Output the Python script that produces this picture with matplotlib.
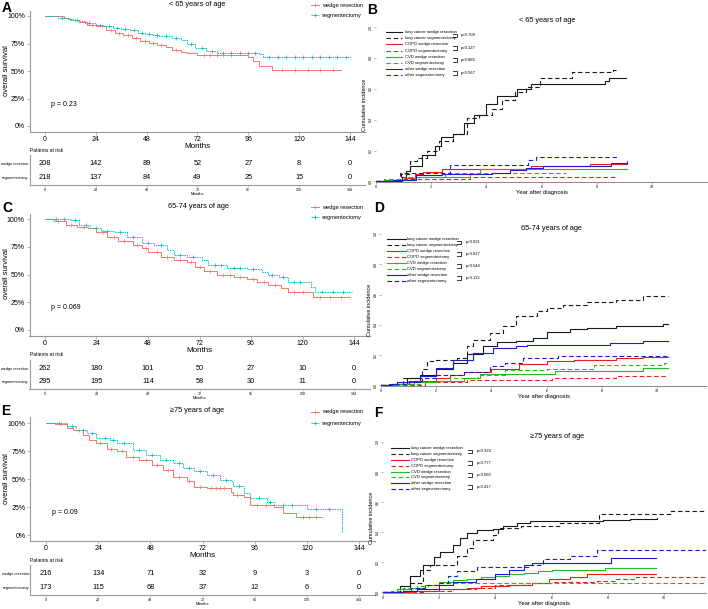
"""
Overall survival (KM) and cumulative incidence by age group, wedge vs segmentectomy
"""
import numpy as np
import matplotlib.pyplot as plt

plt.rcParams['font.family'] = ['Liberation Sans', 'DejaVu Sans']

W, H = 708, 609
RED = '#F8766D'
TEAL = '#00BFC4'

# ---------------- Kaplan-Meier data (months, survival) ----------------
month_ticks = [0, 24, 48, 72, 96, 120, 144]

A_wedge_t = [0, 9, 11, 13, 16, 20, 24, 29, 33, 37, 41, 45, 49, 53, 57, 60, 64, 67, 72, 92, 96, 98, 101, 107, 140]
A_wedge_s = [1.0, .985, .97, .96, .95, .92, .905, .87, .85, .83, .80, .77, .755, .74, .715, .69, .675, .66, .65, .65, .63, .595, .545, .51, .51]
A_wedge_cens = [14, 22, 27, 31, 35, 39, 43, 47, 51, 55, 62, 75, 78, 81, 84, 88, 112, 118, 124, 130, 136]
A_seg_t = [0, 6, 12, 16, 19, 24, 28, 32, 36, 40, 44, 47, 51, 54, 60, 64, 67, 71, 76, 81, 101, 103, 144]
A_seg_s = [1.0, .985, .965, .955, .94, .92, .905, .89, .88, .87, .85, .84, .83, .82, .80, .78, .75, .71, .685, .665, .655, .625, .625]
A_seg_cens = [8, 15, 21, 26, 30, 34, 38, 42, 46, 49, 53, 57, 62, 69, 74, 79, 84, 88, 92, 96, 99, 106, 110, 114, 118, 122, 126, 130, 134, 138, 142]
A_risk_wedge = [208, 142, 89, 52, 27, 8, 0]
A_risk_seg = [218, 137, 84, 49, 25, 15, 0]

C_wedge_t = [0, 4, 10, 15, 20, 24, 29, 34, 41, 45, 48, 54, 60, 66, 70, 74, 80, 88, 94, 99, 104, 110, 113, 125, 142]
C_wedge_s = [1.0, .98, .946, .925, .916, .88, .84, .80, .766, .74, .706, .66, .63, .616, .57, .53, .495, .48, .46, .43, .405, .38, .345, .30, .30]
C_wedge_cens = [6, 12, 18, 27, 32, 37, 43, 47, 52, 57, 63, 68, 72, 77, 83, 86, 91, 97, 102, 107, 116, 120, 128, 133, 138]
C_seg_t = [0, 12, 16, 21, 26, 32, 38, 45, 51, 57, 60, 66, 73, 76, 85, 94, 101, 104, 109, 113, 124, 126, 143]
C_seg_s = [1.0, .99, .946, .916, .89, .88, .84, .787, .766, .72, .676, .66, .63, .586, .56, .55, .52, .495, .48, .43, .39, .345, .345]
C_seg_cens = [5, 9, 14, 19, 24, 29, 35, 41, 48, 54, 63, 69, 79, 82, 88, 91, 97, 106, 111, 116, 119, 129, 134, 139]
C_risk_wedge = [262, 180, 101, 50, 27, 10, 0]
C_risk_seg = [295, 195, 114, 58, 30, 11, 0]

E_wedge_t = [0, 4, 9.5, 12.6, 17, 20, 23, 28, 32.5, 37, 43, 49, 54, 58.6, 64.7, 68, 74, 85, 86, 91, 94, 105, 109, 115, 127]
E_wedge_s = [1.0, .99, .955, .934, .895, .85, .82, .767, .746, .70, .67, .627, .58, .52, .478, .433, .418, .388, .358, .343, .269, .254, .194, .158, .158]
E_wedge_cens = [7, 15, 25, 30, 35, 40, 46, 51, 56, 61, 66, 71, 76, 78, 80, 82, 88, 97, 101, 118, 121, 124]
E_seg_t = [0, 9.5, 14, 19, 23, 29.5, 32.5, 40, 46, 52.5, 58.6, 63, 68, 74, 80, 85, 86, 91, 94, 101.6, 105, 120, 136]
E_seg_s = [1.0, .97, .94, .91, .866, .85, .82, .76, .716, .67, .64, .597, .567, .537, .493, .478, .439, .373, .328, .299, .269, .23, .015]
E_seg_cens = [6, 12, 17, 21, 27, 31, 36, 43, 49, 55, 61, 66, 71, 77, 83, 89, 98, 103, 109, 113, 124, 130]
E_risk_wedge = [216, 134, 71, 32, 9, 3, 0]
E_risk_seg = [173, 115, 68, 37, 12, 6, 0]

# ---------------- Cumulative incidence data (years, incidence) ----------------
cif_labels = ['lung cancer wedge resection', 'lung cancer segmentectomy',
              'COPD wedge resection', 'COPD segmentectomy',
              'CVD wedge resection', 'CVD segmentectomy',
              'other wedge resection', 'other segmentectomy']

# B: < 65
B_lung_w_t = [0, .95, 1.1, 1.23, 1.65, 2.13, 2.37, 2.8, 3.2, 3.56, 3.99, 4.4, 5.1, 5.6, 8.3, 8.45, 9.07]
B_lung_w_y = [0, .03, .07, .10, .17, .23, .29, .31, .38, .43, .50, .55, .60, .63, .65, .67, .67]
B_lung_s_t = [0, .9, 1.23, 1.5, 1.84, 2.3, 2.8, 3.3, 3.73, 4.2, 4.55, 5.05, 5.45, 5.95, 7.1, 8.6, 8.7]
B_lung_s_y = [0, .05, .13, .15, .20, .26, .31, .41, .43, .47, .53, .58, .61, .67, .71, .72, .72]
B_copd_w_t = [0, .4, 1.0, 1.4, 1.7, 2.4, 5.6, 7.75, 9.1]
B_copd_w_y = [0, .01, .02, .05, .06, .08, .10, .115, .13]
B_copd_s_t = [0, .4, 1.0, 3.4, 8.7]
B_copd_s_y = [0, .01, .015, .026, .026]
B_cvd_w_t = [0, .3, 1.4, 3.4, 3.75, 9.1]
B_cvd_w_y = [0, .01, .03, .05, .077, .077]
B_cvd_s_t = [0, .3, 1.0, 2.5, 6.9]
B_cvd_s_y = [0, .015, .03, .054, .054]
B_oth_w_t = [0, .6, 1.45, 2.4, 4.2, 4.85, 5.45, 6.06, 8.5, 9.1]
B_oth_w_y = [0, .01, .04, .045, .055, .071, .085, .099, .12, .12]
B_oth_s_t = [0, .87, 2.68, 5.5, 5.8, 8.78]
B_oth_s_y = [0, .056, .103, .138, .159, .159]
B_pvals = ['p=0.708', 'p=0.127', 'p=0.886', 'p=0.567']

# D: 65-74
D_lung_w_t = [0, .57, .93, 1.4, 2.0, 2.6, 3.1, 3.7, 4.2, 4.9, 5.5, 6.0, 6.85, 7.45, 8.5, 10.2, 10.4]
D_lung_w_y = [0, .01, .05, .066, .105, .15, .21, .26, .285, .29, .31, .35, .37, .38, .39, .408, .408]
D_lung_s_t = [0, .4, .8, 1.47, 1.65, 2.0, 2.74, 3.1, 3.35, 3.95, 4.43, 4.9, 5.64, 6.0, 6.6, 7.45, 8.5, 9.5, 10.4]
D_lung_s_y = [0, .01, .05, .105, .16, .17, .18, .26, .30, .346, .39, .456, .49, .51, .533, .548, .566, .588, .588]
D_copd_w_t = [0, .4, 1.0, 2.0, 2.5, 3.0, 4.0, 5.0, 6.0, 7.0, 8.5, 9.5, 10.4]
D_copd_w_y = [0, .01, .03, .05, .07, .09, .11, .14, .16, .17, .18, .19, .19]
D_copd_s_t = [0, 1.6, 3.1, 6.2, 8.5, 10.4]
D_copd_s_y = [0, .02, .035, .05, .063, .063]
D_cvd_w_t = [0, .6, 1.2, 2.0, 3.0, 3.6, 6.3, 9.5, 10.4]
D_cvd_w_y = [0, .01, .02, .03, .05, .078, .096, .117, .117]
D_cvd_s_t = [0, .8, 1.5, 2.5, 3.5, 4.5, 6.0, 7.7, 10.25, 10.4]
D_cvd_s_y = [0, .01, .03, .05, .07, .10, .11, .135, .148, .148]
D_oth_w_t = [0, .3, .57, 1.4, 2.0, 2.6, 3.35, 4.07, 4.9, 5.28, 8.3, 9.5, 10.4]
D_oth_w_y = [0, .01, .02, .06, .116, .17, .215, .25, .26, .27, .28, .29, .29]
D_oth_s_t = [0, .5, 1.0, 1.5, 2.0, 3.0, 3.95, 4.5, 5.15, 6.4, 10.4]
D_oth_s_y = [0, .01, .03, .05, .07, .09, .13, .15, .18, .193, .193]
D_pvals = ['p=0.021', 'p=0.027', 'p=0.544', 'p=0.113']

# F: >= 75
F_lung_w_t = [0, .5, .6, .96, 1.3, 1.43, 1.8, 2.03, 2.5, 2.74, 2.98, 3.33, 3.93, 4.28, 4.76, 5.23, 7.84, 8.8, 9.74]
F_lung_w_y = [0, .02, .04, .108, .15, .185, .236, .27, .318, .362, .395, .413, .42, .44, .46, .472, .483, .488, .495]
F_lung_s_t = [0, .6, .96, 1.43, 1.67, 2.62, 2.98, 3.2, 3.93, 4.1, 4.9, 6.3, 7.7, 10.2, 11.5]
F_lung_s_y = [0, .02, .064, .152, .185, .24, .296, .347, .384, .43, .44, .46, .52, .54, .54]
F_copd_w_t = [0, 1.0, 2.0, 3.0, 3.5, 4.5, 5.3, 5.9, 6.65, 7.25, 9.7]
F_copd_w_y = [0, .01, .02, .03, .045, .05, .06, .086, .104, .12, .12]
F_copd_s_t = [0, 1.5, 2.5, 3.3, 4.0, 5.0, 6.0, 7.6, 8.3, 9.0, 11.5]
F_copd_s_y = [0, .01, .02, .03, .05, .06, .07, .075, .09, .104, .104]
F_cvd_w_t = [0, .5, 1.0, 1.5, 2.0, 2.5, 3.0, 3.5, 4.0, 4.5, 5.0, 5.5, 6.0, 7.9, 9.7]
F_cvd_w_y = [0, .02, .03, .05, .07, .08, .09, .10, .11, .12, .13, .14, .15, .163, .163]
F_cvd_s_t = [0, .3, .7, 1.2, 1.6, 2.2, 11.5]
F_cvd_s_y = [0, .01, .03, .04, .05, .064, .064]
F_oth_w_t = [0, .7, 1.2, 2.0, 2.5, 3.3, 4.0, 4.5, 5.0, 5.3, 8.1, 9.7]
F_oth_w_y = [0, .01, .02, .05, .07, .09, .12, .15, .18, .196, .23, .23]
F_oth_s_t = [0, .6, 1.0, 1.5, 2.0, 2.3, 2.62, 3.33, 5.2, 5.7, 6.65, 7.6, 11.5]
F_oth_s_y = [0, .01, .03, .05, .06, .108, .14, .168, .185, .22, .245, .285, .285]
F_pvals = ['p=0.923', 'p=0.777', 'p=0.060', 'p=0.417']

CIF_COLORS = ['#1a1a1a', '#1a1a1a', '#ee1c1c', '#ee1c1c', '#22bb22', '#22bb22', '#1c1ccc', '#1c1ccc']
SOLID = '-'
DASH = (0, (4, 2.5))
CIF_STYLES = [SOLID, DASH] * 4

fig = plt.figure(figsize=(W / 100, H / 100), dpi=100)


def rect(l, t, r, b):
    return [l / W, 1 - b / H, (r - l) / W, (b - t) / H]


def step_val(t, s, x):
    idx = np.searchsorted(t, x, side='right') - 1
    return np.asarray(s)[idx]


def km_panel(box, risk_box, wt, ws, wc, st, ss, sc, pval, risk_w, risk_s):
    ax = fig.add_axes(rect(*box))
    ax.set_facecolor('none')
    ax.step(wt, ws, where='post', color=RED, lw=0.7)
    ax.step(st, ss, where='post', color=TEAL, lw=0.7, ls=(0, (1.5, 1)))
    ax.plot(wc, step_val(wt, ws, wc), '+', color=RED, ms=2.2, mew=0.5)
    ax.plot(sc, step_val(st, ss, sc), '+', color=TEAL, ms=2.2, mew=0.5)
    ax.set_xlim(-7.2, 151.2)
    ax.set_ylim(-0.05, 1.05)
    ax.set_xticks(month_ticks)
    ax.set_yticks([0, .25, .5, .75, 1])
    ax.set_yticklabels(['0%', '25%', '50%', '75%', '100%'])
    for s in ['top', 'right']:
        ax.spines[s].set_visible(False)
    for s in ['left', 'bottom']:
        ax.spines[s].set_color('#9a9a9a')
        ax.spines[s].set_linewidth(0.8)
    ax.tick_params(labelsize=5.0, length=2, width=0.5, color='#9a9a9a', pad=1.5)
    ax.set_xlabel('Months', fontsize=5.8, labelpad=-0.5)
    ax.text(3, 0.2, pval, fontsize=5, va='center')

    rk = fig.add_axes(rect(*risk_box))
    rk.set_facecolor('none')
    rk.set_xlim(-7.2, 151.2)
    rk.set_ylim(0, 1)
    for i, x in enumerate(month_ticks):
        rk.text(x, 0.71, str(risk_w[i]), ha='center', va='center', fontsize=5.3)
        rk.text(x, 0.26, str(risk_s[i]), ha='center', va='center', fontsize=5.3)
    rk.set_yticks([0.71, 0.26])
    rk.set_yticklabels(['wedge resection', 'segmentectomy'], fontsize=2.7)
    rk.set_xticks(month_ticks)
    rk.tick_params(axis='y', length=0, pad=0.8)
    rk.tick_params(axis='x', labelsize=2.6, length=1.2, width=0.4, color='#9a9a9a', pad=0.8)
    rk.set_xlabel('Months', fontsize=3, labelpad=0.3)
    for s in ['top', 'right']:
        rk.spines[s].set_visible(False)
    for s in ['left', 'bottom']:
        rk.spines[s].set_color('#9a9a9a')
        rk.spines[s].set_linewidth(0.8)
    return ax


def cif_panel(box, xmax, curves, pvals, leg):
    ax = fig.add_axes(rect(*box))
    for (t, y), col, ls in zip(curves, CIF_COLORS, CIF_STYLES):
        ax.step(t, y, where='post', color=col, lw=0.8, ls=ls)
    ax.set_xlim(0, xmax)
    ax.set_ylim(-0.004, 1)
    ax.set_xticks([0, 2, 4, 6, 8, 10])
    ax.set_yticks([0, .2, .4, .6, .8, 1.0])
    ax.set_yticklabels(['0.0', '0.2', '0.4', '0.6', '0.8', '1.0'])
    for s in ['top', 'right', 'left']:
        ax.spines[s].set_visible(False)
    ax.spines['bottom'].set_color('#777777')
    ax.spines['bottom'].set_linewidth(0.6)
    ax.tick_params(labelsize=2.6, length=1.2, width=0.4, color='#777777', pad=1)
    plt.setp(ax.get_yticklabels(), rotation=90, va='center')
    ax.set_xlabel('Year after diagnosis', fontsize=4.2, labelpad=0.5)
    ax.set_ylabel('Cumulative incidence', fontsize=4.0, labelpad=1.5)

    # legend with brackets and p-values
    x0, x1, xt, xb, xp, y0, dy = leg
    tr = ax.transAxes
    for i, lab in enumerate(cif_labels):
        yy = y0 - i * dy
        ax.plot([x0, x1], [yy, yy], color=CIF_COLORS[i], lw=0.8, ls=CIF_STYLES[i], transform=tr)
        ax.text(xt, yy, lab, fontsize=3.0, va='center', transform=tr)
    for k in range(4):
        ya = y0 - 2 * k * dy - 0.01
        yb = y0 - (2 * k + 1) * dy + 0.005
        ax.plot([xb - 0.012, xb, xb, xb - 0.012], [ya, ya, yb, yb], color='#1a1a1a', lw=0.6, transform=tr)
        ax.text(xp, (ya + yb) / 2, pvals[k], fontsize=3.0, va='center', transform=tr)
    return ax


# ---------------- left column: KM ----------------
km_panel((29.75, 10.5, 365.2, 131.5), (29.75, 155, 365.2, 185),
         A_wedge_t, A_wedge_s, A_wedge_cens, A_seg_t, A_seg_s, A_seg_cens,
         'p = 0.23', A_risk_wedge, A_risk_seg)
km_panel((29.5, 213.5, 369.5, 335.5), (29.5, 360, 369.5, 389),
         C_wedge_t, C_wedge_s, C_wedge_cens, C_seg_t, C_seg_s, C_seg_cens,
         'p = 0.069', C_risk_wedge, C_risk_seg)
km_panel((30.3, 417.4, 374.7, 540.6), (30.3, 565, 374.7, 595),
         E_wedge_t, E_wedge_s, E_wedge_cens, E_seg_t, E_seg_s, E_seg_cens,
         'p = 0.09', E_risk_wedge, E_risk_seg)

# ---------------- right column: cumulative incidence ----------------
B_curves = [(B_lung_w_t, B_lung_w_y), (B_lung_s_t, B_lung_s_y), (B_copd_w_t, B_copd_w_y), (B_copd_s_t, B_copd_s_y),
            (B_cvd_w_t, B_cvd_w_y), (B_cvd_s_t, B_cvd_s_y), (B_oth_w_t, B_oth_w_y), (B_oth_s_t, B_oth_s_y)]
D_curves = [(D_lung_w_t, D_lung_w_y), (D_lung_s_t, D_lung_s_y), (D_copd_w_t, D_copd_w_y), (D_copd_s_t, D_copd_s_y),
            (D_cvd_w_t, D_cvd_w_y), (D_cvd_s_t, D_cvd_s_y), (D_oth_w_t, D_oth_w_y), (D_oth_s_t, D_oth_s_y)]
F_curves = [(F_lung_w_t, F_lung_w_y), (F_lung_s_t, F_lung_s_y), (F_copd_w_t, F_copd_w_y), (F_copd_s_t, F_copd_s_y),
            (F_cvd_w_t, F_cvd_w_y), (F_cvd_s_t, F_cvd_s_y), (F_oth_w_t, F_oth_w_y), (F_oth_s_t, F_oth_s_y)]

cif_panel((376, 27, 707, 182), 331 / 27.6, B_curves, B_pvals,
          (0.03, 0.078, 0.088, 0.245, 0.257, 0.968, 0.04))
cif_panel((381, 234, 706, 386), 325 / 27.6, D_curves, D_pvals,
          (0.018, 0.077, 0.08, 0.246, 0.26, 0.967, 0.039))
cif_panel((383, 442, 706, 593), 323 / 28.1, F_curves, F_pvals,
          (0.025, 0.08, 0.087, 0.276, 0.29, 0.96, 0.039))

# ---------------- overlay: titles, panel letters, KM legends ----------------
ov = fig.add_axes([0, 0, 1, 1])
ov.set_xlim(0, W)
ov.set_ylim(H, 0)
ov.axis('off')

for lab, x, y in [('A', 2, 8), ('C', 2, 208), ('E', 1, 411), ('B', 367, 10), ('D', 374, 208), ('F', 374, 413)]:
    ov.text(x, y, lab, fontsize=10, fontweight='bold', va='center', ha='left')

for txt, x, y in [('< 65 years of age', 197, 5), ('65-74 years of age', 198, 207), ('\u226575 years of age', 197, 411),
                  ('< 65 years of age', 547, 21), ('65-74 years of age', 551, 228), ('\u226575 years of age', 557, 437)]:
    ov.text(x, y, txt, fontsize=5.3, ha='center', va='center')

# y labels of KM plots
for y in [71, 274, 479]:
    ov.text(7, y, 'overall survival', fontsize=5.5, rotation=90, ha='center', va='center')

for y_w, y_s in [(5, 15), (207, 217), (412, 423)]:
    ov.plot([311, 319], [y_w, y_w], color=RED, lw=0.7)
    ov.plot([315], [y_w], '+', color=RED, ms=2.2, mew=0.5)
    ov.plot([311, 319], [y_s, y_s], color=TEAL, lw=0.7, ls=(0, (1.5, 1)))
    ov.plot([315], [y_s], '+', color=TEAL, ms=2.2, mew=0.5)
    ov.text(322, y_w, 'wedge resection', fontsize=4.1, va='center')
    ov.text(322, y_s, 'segmentectomy', fontsize=4.1, va='center')

for y in [151, 355, 561]:
    ov.text(30, y, 'Patients at risk', fontsize=3.6, va='center')

fig.savefig('out.png', dpi=100)
